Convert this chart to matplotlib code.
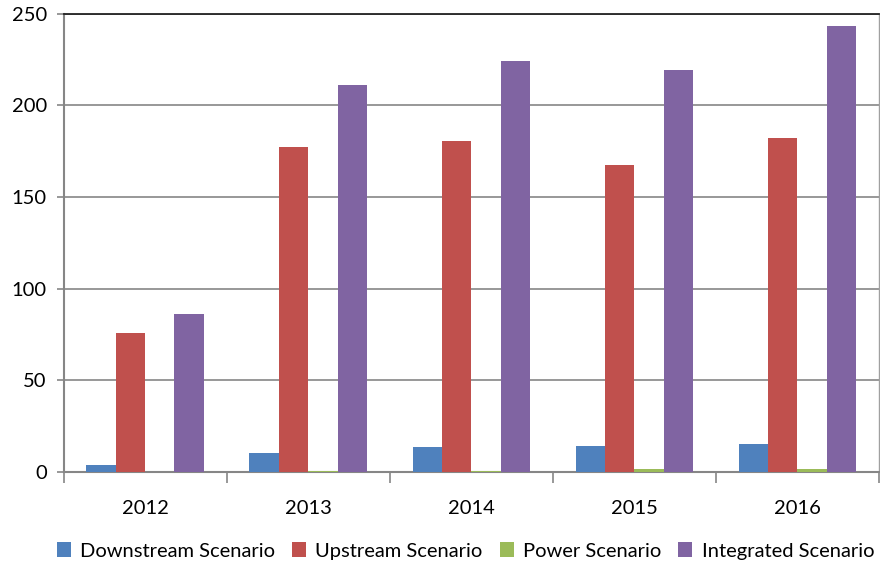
import matplotlib.pyplot as plt
import numpy as np

years = ["2012", "2013", "2014", "2015", "2016"]
series_names = ["Downstream Scenario", "Upstream Scenario", "Power Scenario", "Integrated Scenario"]
downstream = [3.8, 10.4, 13.7, 14.2, 15.3]
upstream = [75.8, 177.2, 180.5, 167.4, 182.1]
power = [0.0, 0.3, 0.4, 1.6, 1.6]
integrated = [86.2, 211.0, 224.2, 219.3, 243.3]
colors = ["#4F81BD", "#C0504D", "#9BBB59", "#8064A2"]

plt.rcParams['font.family'] = ['Lato', 'DejaVu Sans']

fig = plt.figure(figsize=(8.8, 5.63), dpi=100)
ax = fig.add_axes([0.0722, 0.1616, 0.9267, 0.814])

x = np.arange(len(years))
w = 0.18
all_series = [downstream, upstream, power, integrated]
for i, vals in enumerate(all_series):
    ax.bar(x + (i - 1.5) * w, vals, width=w, color=colors[i],
           label=series_names[i], zorder=3)

ax.set_xlim(-0.5, len(years) - 0.5)
ax.set_ylim(0, 250)
ax.set_yticks(range(0, 251, 50))
ax.yaxis.grid(True, color="#868686", linewidth=1.2, zorder=0)

# category ticks on the boundaries, labels in the middle
ax.set_xticks(np.arange(-0.5, len(years)), minor=False)
ax.set_xticklabels([])
ax.set_xticks(x, minor=True)
ax.set_xticklabels(years, minor=True)
ax.tick_params(axis="x", which="major", length=8, color="#868686", width=1.2)
ax.tick_params(axis="x", which="minor", length=0, pad=20, labelsize=14.5)
ax.tick_params(axis="y", length=5, color="#868686", width=1.2, pad=7, labelsize=14.5)

for side in ["left", "bottom"]:
    ax.spines[side].set_color("#868686")
    ax.spines[side].set_linewidth(1.5)
ax.spines["top"].set_color("#222222")
ax.spines["top"].set_linewidth(1.3)
ax.spines["right"].set_color("#A0A0A0")
ax.spines["right"].set_linewidth(1.0)

fig.legend(loc="lower center", bbox_to_anchor=(0.529, -0.026), ncol=4, frameon=False,
           fontsize=14.5, handlelength=0.7, handleheight=0.7,
           handletextpad=0.45, columnspacing=0.85)

fig.savefig("out.png", dpi=100)
